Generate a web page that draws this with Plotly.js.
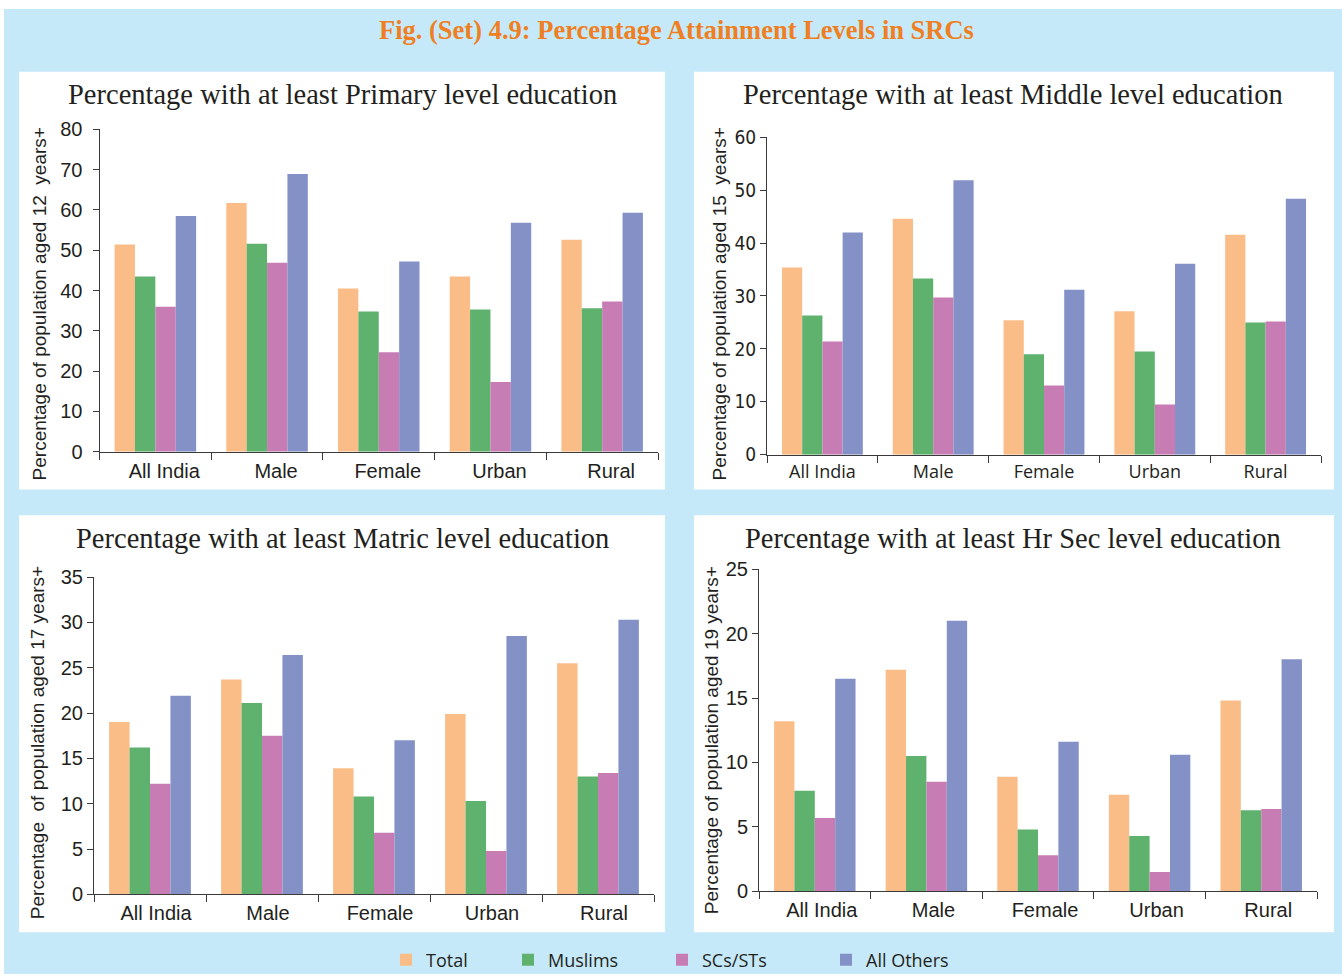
<!DOCTYPE html>
<html><head><meta charset="utf-8">
<script src="https://cdn.plot.ly/plotly-3.0.1.min.js"></script>
<style>html,body{margin:0;padding:0;background:#fff;}#chart{width:1342px;height:979px;}</style>
</head><body><div id="chart"></div>
<script>
// ---- data ----
const categories = ["All India", "Male", "Female", "Urban", "Rural"];
const seriesNames = ["Total", "Muslims", "SCs/STs", "All Others"];

const primaryTotal   = [51.4, 61.7, 40.5, 43.5, 52.6];
const primaryMuslims = [43.5, 51.6, 34.8, 35.3, 35.6];
const primarySCST    = [36.0, 46.9, 24.7, 17.3, 37.3];
const primaryOthers  = [58.5, 68.9, 47.2, 56.8, 59.3];

const middleTotal   = [35.4, 44.6, 25.4, 27.1, 41.6];
const middleMuslims = [26.3, 33.3, 19.0, 19.5, 25.0];
const middleSCST    = [21.4, 29.7, 13.1, 9.5, 25.2];
const middleOthers  = [42.0, 51.9, 31.2, 36.1, 48.4];

const matricTotal   = [19.0, 23.7, 13.9, 19.9, 25.5];
const matricMuslims = [16.2, 21.1, 10.8, 10.3, 13.0];
const matricSCST    = [12.2, 17.5, 6.8, 4.8, 13.4];
const matricOthers  = [21.9, 26.4, 17.0, 28.5, 30.3];

const hrsecTotal   = [13.2, 17.2, 8.9, 7.5, 14.8];
const hrsecMuslims = [7.8, 10.5, 4.8, 4.3, 6.3];
const hrsecSCST    = [5.7, 8.5, 2.8, 1.5, 6.4];
const hrsecOthers  = [16.5, 21.0, 11.6, 10.6, 18.0];

const panelTitles = [
  "Percentage with at least Primary level education",
  "Percentage with at least Middle level education",
  "Percentage with at least Matric level education",
  "Percentage with at least Hr Sec level education"
];
const yTitles = [
  "Percentage of population aged 12\u00a0 years+",
  "Percentage of population aged 15\u00a0 years+",
  "Percentage\u00a0 of population aged 17 years+",
  "Percentage of population aged 19 years+"
];
const figTitle = "Fig. (Set) 4.9: Percentage Attainment Levels in SRCs";

// ---- styling ----
const colors = ["#fbbd88", "#5fb16e", "#c77db3", "#8391c7"];
const W = 1342, H = 979;
const fx = x => x / W;
const fy = y => 1 - y / H;

const panelData = [
  [primaryTotal, primaryMuslims, primarySCST, primaryOthers],
  [middleTotal, middleMuslims, middleSCST, middleOthers],
  [matricTotal, matricMuslims, matricSCST, matricOthers],
  [hrsecTotal, hrsecMuslims, hrsecSCST, hrsecOthers]
];

// pixel geometry of each plot area: [x0, x1, yBottom, yTop]
const geom = [
  [99.5, 658, 454, 130],
  [767, 1321, 457, 138],
  [94, 654, 899, 580],
  [759, 1317, 896, 572]
];
const yRanges = [[0, 80], [0, 60], [0, 35], [0, 25]];
const yDticks = [10, 10, 5, 5];
const panelRects = [[19, 665, 72, 492], [694, 1334, 72, 492], [19, 665, 518, 937], [694, 1334, 518, 937]];

const sansFont = "Liberation Sans, Arial, sans-serif";
const narrowFont = "Liberation Sans Narrow, DejaVu Sans Condensed, sans-serif";
const myriadFont = "Open Sans, Lato, sans-serif";
const serifFont = "Liberation Serif, Times New Roman, serif";
const txtColor = "#231f20";
const axColor = "#3a3a3a";

const traces = [];
panelData.forEach((series, p) => {
  series.forEach((vals, s) => {
    const t = {
      type: "bar",
      x: categories,
      y: vals,
      name: seriesNames[s],
      marker: {color: colors[s], line: {width: 0}},
      xaxis: p === 0 ? "x" : "x" + (p + 1),
      yaxis: p === 0 ? "y" : "y" + (p + 1),
      showlegend: p === 0,
      hoverinfo: "x+y+name"
    };
    if (p === 0) t.legend = s === 0 ? "legend" : "legend" + (s + 1);
    traces.push(t);
  });
});

const layout = {
  width: W, height: H,
  margin: {l: 0, r: 0, t: 0, b: 0},
  paper_bgcolor: "#ffffff",
  plot_bgcolor: "rgba(0,0,0,0)",
  barmode: "group",
  bargap: 0.27,
  bargroupgap: 0,
  shapes: [],
  annotations: [],
  font: {family: sansFont, color: txtColor}
};

// background
layout.shapes.push({type: "rect", xref: "paper", yref: "paper", x0: fx(4), x1: 1, y0: 0, y1: fy(9),
  fillcolor: "#c5e9f8", line: {width: 0}, layer: "below"});
panelRects.forEach(r => {
  layout.shapes.push({type: "rect", xref: "paper", yref: "paper", x0: fx(r[0]), x1: fx(r[1]), y0: fy(r[3]), y1: fy(r[2]),
    fillcolor: "#ffffff", line: {width: 0}, layer: "below"});
});

const tickFonts = [
  {family: sansFont, size: 20, color: txtColor},
  {family: narrowFont, size: 19, color: txtColor},
  {family: sansFont, size: 20, color: txtColor},
  {family: sansFont, size: 20, color: txtColor}
];
const xFonts = [
  {family: sansFont, size: 20, color: txtColor},
  {family: myriadFont, size: 18, color: txtColor},
  {family: sansFont, size: 20, color: txtColor},
  {family: sansFont, size: 20, color: txtColor}
];
const yStandoff = [6, 0, 0, 0];
const xShift = [9, 0, 6, 7];

geom.forEach((g, p) => {
  const xk = p === 0 ? "xaxis" : "xaxis" + (p + 1);
  const yk = p === 0 ? "yaxis" : "yaxis" + (p + 1);
  const yid = p === 0 ? "y" : "y" + (p + 1);
  const xid = p === 0 ? "x" : "x" + (p + 1);
  layout[xk] = {
    domain: [fx(g[0]), fx(g[1])],
    anchor: yid,
    type: "category",
    range: [-0.5, 4.5],
    tickson: "boundaries",
    ticks: "outside", ticklen: 7, tickwidth: 1, tickcolor: axColor,
    showline: true, linecolor: axColor, linewidth: 1,
    showgrid: false, zeroline: false,
    tickfont: xFonts[p],
    ticklabelshift: xShift[p],
    ticklabelstandoff: 1,
    fixedrange: true
  };
  layout[yk] = {
    domain: [fy(g[2]), fy(g[3])],
    anchor: xid,
    range: yRanges[p],
    dtick: yDticks[p], tick0: 0,
    ticks: "outside", ticklen: 6, tickwidth: 1, tickcolor: axColor,
    showline: true, linecolor: axColor, linewidth: 1,
    showgrid: false, zeroline: false,
    tickfont: tickFonts[p],
    ticklabelstandoff: yStandoff[p],
    fixedrange: true
  };
});

// figure title
layout.annotations.push({xref: "paper", yref: "paper", x: fx(676), y: fy(30), xanchor: "center", yanchor: "middle",
  text: "<b>" + figTitle + "</b>", showarrow: false,
  font: {family: serifFont, size: 26.5, color: "#ef7f22"}});

// panel titles
const titlePos = [[342, 95], [1013, 95], [342, 541], [1013, 541]];
titlePos.forEach((tp, p) => {
  layout.annotations.push({xref: "paper", yref: "paper", x: fx(tp[0]), y: fy(tp[1]), xanchor: "center", yanchor: "middle",
    text: panelTitles[p], showarrow: false,
    font: {family: serifFont, size: 28.5, color: txtColor}});
});

// y-axis titles
const yTitlePos = [[39, 306], [719, 306], [37, 747], [711, 744]];
yTitlePos.forEach((tp, p) => {
  layout.annotations.push({xref: "paper", yref: "paper", x: fx(tp[0]), y: fy(tp[1]), xanchor: "center", yanchor: "middle",
    text: yTitles[p], textangle: -90, showarrow: false,
    font: {family: sansFont, size: 19, color: txtColor}});
});

// legends (one per series, positioned individually)
const legendX = [386, 508, 662, 826];
legendX.forEach((lx, s) => {
  const key = s === 0 ? "legend" : "legend" + (s + 1);
  layout[key] = {
    x: fx(lx), y: fy(965), xanchor: "left", yanchor: "middle",
    orientation: "h", bgcolor: "rgba(0,0,0,0)", borderwidth: 0,
    font: {family: myriadFont, size: 18, color: txtColor},
    itemclick: false, itemdoubleclick: false
  };
});

Plotly.newPlot("chart", traces, layout, {displayModeBar: false, staticPlot: true});
</script>
</body></html>
